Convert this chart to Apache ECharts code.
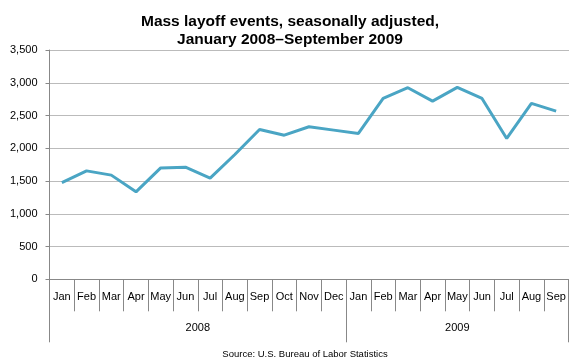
<!DOCTYPE html>
<html><head><meta charset="utf-8">
<script src="https://cdn.jsdelivr.net/npm/echarts@6/dist/echarts.min.js"></script>
<style>html,body{margin:0;padding:0;background:#fff}#c{width:580px;height:360px}</style>
</head><body><div id="c"></div>
<script>
var months = ['Jan','Feb','Mar','Apr','May','Jun','Jul','Aug','Sep','Oct','Nov','Dec','Jan','Feb','Mar','Apr','May','Jun','Jul','Aug','Sep'];
var layoffEvents = [1475,1655,1590,1335,1700,1712,1545,1905,2287,2200,2328,2277,2226,2761,2924,2720,2929,2761,2150,2685,2568];
var years = ['2008','2009'];
var monthsPerYear = [12, 9];
var yTicks = [0,500,1000,1500,2000,2500,3000,3500];

var yearBounds = [0], yearCenters = [];
monthsPerYear.forEach(function(n,i){ var s = yearBounds[i]; yearBounds.push(s+n); yearCenters.push(s+n/2); });

var chart = echarts.init(document.getElementById('c'));
var font = 'Liberation Sans, Arial, sans-serif';
chart.setOption({
  animation:false,
  title:[{text:'Mass layoff events, seasonally adjusted,\nJanuary 2008\u2013September 2009',left:'center',top:7,
    textStyle:{fontFamily:font,fontSize:15.5,fontWeight:'bold',color:'#000',lineHeight:18.5}},
    {text:'Source: U.S. Bureau of Labor Statistics',left:300,textAlign:'center',top:344,
    textStyle:{fontFamily:font,fontSize:9.5,fontWeight:'normal',color:'#000'}}],
  grid:{left:49.5,right:11.5,top:50,bottom:80.7,containLabel:false},
  xAxis:[{type:'category',data:months,boundaryGap:true,
    axisLine:{lineStyle:{color:'#888',width:1}},
    axisTick:{show:true,interval:0,length:32,lineStyle:{color:'#888'}},
    axisLabel:{interval:0,margin:12,fontFamily:font,fontSize:11,color:'#000'},
    splitLine:{show:false}},
   {type:'value',position:'bottom',min:0,max:months.length,
    axisLine:{show:false},
    axisTick:{show:true,customValues:yearBounds,length:63,lineStyle:{color:'#888'}},
    axisLabel:{customValues:yearCenters,margin:43,fontFamily:font,fontSize:11,color:'#000',
      formatter:function(v){ var i = yearCenters.indexOf(v); return i>=0?years[i]:''; }},
    splitLine:{show:false}}],
  yAxis:{type:'value',min:yTicks[0],max:yTicks[yTicks.length-1],interval:yTicks[1]-yTicks[0],
    axisLine:{show:true,lineStyle:{color:'#888'}},
    axisTick:{show:true,length:4,lineStyle:{color:'#888'}},
    axisLabel:{margin:12,fontFamily:font,fontSize:11,color:'#000',
      formatter:function(v){return v.toLocaleString('en-US');}},
    splitLine:{show:true,lineStyle:{type:[1,1],color:'#777',width:1}}},
  series:[{type:'line',xAxisIndex:0,data:layoffEvents,showSymbol:false,symbol:'none',
    lineStyle:{color:'#4aa5c4',width:3},itemStyle:{color:'#4aa5c4'}}]
});
</script></body></html>
